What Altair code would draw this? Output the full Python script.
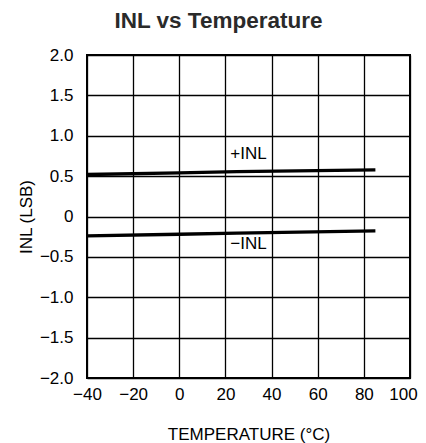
import altair as alt
import pandas as pd

temps = [-40, 0, 25, 85]
inl_pos = [0.52, 0.54, 0.555, 0.578]
inl_neg = [-0.24, -0.22, -0.205, -0.178]

label_text = ["+INL", "\u2212INL"]
label_x = [30, 30]
label_y = [0.78, -0.34]

x_ticks = [-40, -20, 0, 20, 40, 60, 80, 100]
y_ticks = [-2.0, -1.5, -1.0, -0.5, 0, 0.5, 1.0, 1.5, 2.0]

FONT = "Liberation Sans"

rows = []
for t, v in zip(temps, inl_pos):
    rows.append({"T": t, "INL": v, "series": "+INL"})
for t, v in zip(temps, inl_neg):
    rows.append({"T": t, "INL": v, "series": "-INL"})
df = pd.DataFrame(rows)
labels = pd.DataFrame({"T": label_x, "INL": label_y, "text": label_text})

x_scale = alt.Scale(domain=[-40, 100], nice=False, zero=False)
y_scale = alt.Scale(domain=[-2, 2], nice=False, zero=False)

x_axis = alt.Axis(
    values=x_ticks, title="TEMPERATURE (\u00b0C)", grid=True, gridColor="black",
    gridWidth=1.3, gridOpacity=1, domain=False, ticks=False, tickSize=0,
    labelPadding=8, labelFont=FONT, labelFontSize=17, labelColor="black",
    labelOffset={"condition": {"test": "datum.value == 100", "value": -7}, "value": 0},
    titleFont=FONT, titleFontSize=17, titleFontWeight="normal", titleColor="black",
    titleBaseline="alphabetic", titleY=61, labelFlush=False,
)
y_axis = alt.Axis(
    values=y_ticks, title="INL (LSB)", grid=True, gridColor="black",
    gridWidth=1.3, gridOpacity=1, domain=False, ticks=False, tickSize=0,
    labelPadding=14, labelFont=FONT, labelFontSize=17, labelColor="black",
    labelExpr="datum.value == 0 ? '0' : format(datum.value, '.1f')",
    titleFont=FONT, titleFontSize=17, titleFontWeight="normal", titleColor="black",
    titleX=-61, titleY=161.5, titleAngle=270, titleBaseline="middle", titleAlign="center",
    labelFlush=False,
)

lines = alt.Chart(df).mark_line(color="black", strokeWidth=3.3).encode(
    x=alt.X("T:Q", scale=x_scale, axis=x_axis),
    y=alt.Y("INL:Q", scale=y_scale, axis=y_axis),
    detail="series:N",
)

texts = alt.Chart(labels).mark_text(font=FONT, fontSize=17, color="black").encode(
    x=alt.X("T:Q", scale=x_scale),
    y=alt.Y("INL:Q", scale=y_scale),
    text="text:N",
)

chart = alt.layer(lines, texts).properties(
    width=323,
    height=323,
    title=alt.TitleParams(
        "INL vs Temperature", font="Liberation Sans", fontSize=22.5, fontWeight="bold",
        color="#2a2a2a", anchor="middle", dx=-30, offset=14,
    ),
    autosize=alt.AutoSizeParams(type="none"),
    padding={"left": 79, "top": 47, "right": 8, "bottom": 65},
).configure_view(stroke="black", strokeWidth=2)

chart.save("out.html", embed_options={"renderer": "svg", "actions": False})
